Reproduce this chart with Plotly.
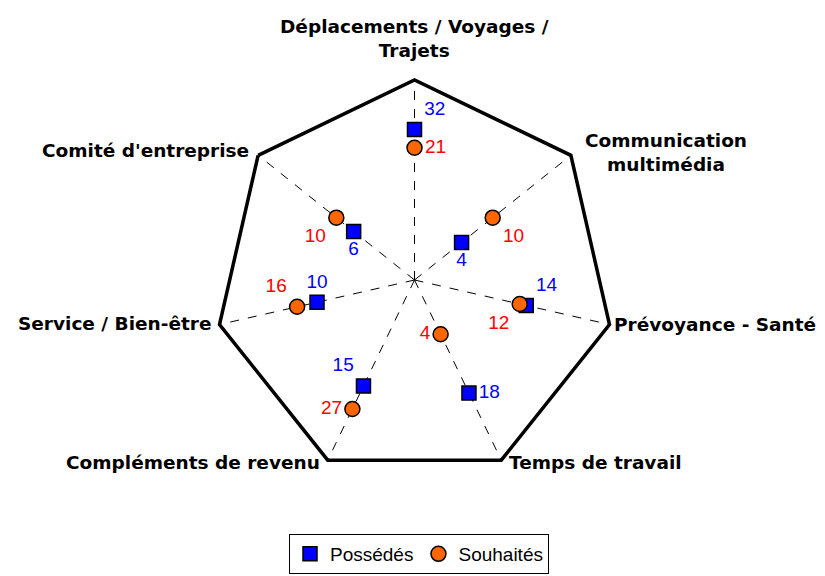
import plotly.graph_objects as go

categories = [
    "Déplacements / Voyages /<br>Trajets",
    "Communication<br>multimédia",
    "Prévoyance - Santé",
    "Temps de travail",
    "Compléments de revenu",
    "Service / Bien-être",
    "Comité d'entreprise",
]
possedes = [32, 4, 14, 18, 15, 10, 6]
souhaites = [21, 10, 12, 4, 27, 16, 10]

# styling / placement (not data)
pos_textpos = ["top right", "bottom center", "top right", "middle right",
               "top left", "top center", "bottom center"]
sou_textpos = ["middle right", "bottom right", "bottom left", "middle left",
               "middle left", "top left", "bottom left"]
# category label placement in pixels: (x, y, xanchor)
label_place = [
    (406, 30, "center"),
    (658, 144, "center"),
    (604, 316, "left"),
    (499, 454, "left"),
    (314, 454, "right"),
    (205, 315, "right"),
    (243, 142, "right"),
]
W, H = 825, 576

fig = go.Figure()
fig.add_trace(go.Scatterpolar(
    r=possedes, theta=categories, name="Possédés", mode="markers+text",
    marker=dict(symbol="square", size=14, color="#0000FF",
                line=dict(color="black", width=1.5)),
    text=[str(v) for v in possedes], textposition=pos_textpos,
    textfont=dict(color="#0000FF", size=19, family="Liberation Sans, Arial"),
    cliponaxis=False,
))
fig.add_trace(go.Scatterpolar(
    r=souhaites, theta=categories, name="Souhaités", mode="markers+text",
    marker=dict(symbol="circle", size=15, color="#FF6600",
                line=dict(color="black", width=1.5)),
    text=[str(v) for v in souhaites], textposition=sou_textpos,
    textfont=dict(color="#FF0000", size=19, family="Liberation Sans, Arial"),
    cliponaxis=False,
))

annotations = []
for txt, (px, py, xa) in zip(categories, label_place):
    annotations.append(dict(
        text=txt, x=px / W, y=1 - py / H, xref="paper", yref="paper",
        xanchor=xa, yanchor="middle", align="center", showarrow=False,
        font=dict(size=18.5, family="DejaVu Sans", weight="bold", color="black"),
    ))

fig.update_layout(
    width=W, height=H,
    margin=dict(l=0, r=0, t=0, b=0),
    paper_bgcolor="white",
    font=dict(family="Liberation Sans, Arial", color="black"),
    annotations=annotations,
    polar=dict(
        domain=dict(x=[206.5 / W, 606.5 / W], y=[104 / H, 504 / H]),
        bgcolor="white",
        gridshape="linear",
        angularaxis=dict(
            direction="clockwise", rotation=90,
            showline=True, linecolor="black", linewidth=3.5,
            showgrid=True, gridcolor="black", gridwidth=1, griddash="dash",
            ticks="", showticklabels=False,
        ),
        radialaxis=dict(
            type="log", range=[0, 2],
            showgrid=False, showline=False, showticklabels=False, ticks="",
        ),
    ),
    legend=dict(
        orientation="h", x=411 / W, xanchor="center", y=10 / H, yanchor="bottom",
        bordercolor="black", borderwidth=1, bgcolor="white",
        font=dict(size=19, family="Liberation Sans, Arial", color="black"),
        itemwidth=30,
    ),
)

fig.write_html("out.html")
